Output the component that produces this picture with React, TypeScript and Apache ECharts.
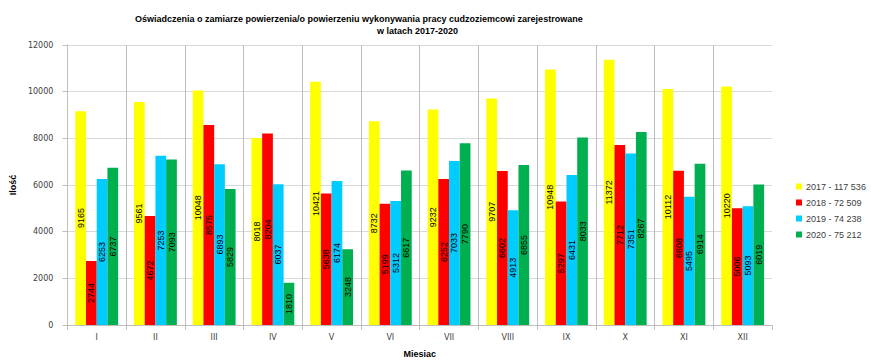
import React, { useEffect, useRef } from "react";
import * as echarts from "echarts";

const months = ["I", "II", "III", "IV", "V", "VI", "VII", "VIII", "IX", "X", "XI", "XII"];
const seriesNames = ["2017 - 117 536", "2018 - 72 509", "2019 - 74 238", "2020 - 75 212"];
const v2017 = [9165, 9561, 10048, 8018, 10421, 8732, 9232, 9707, 10948, 11372, 10112, 10220];
const v2018 = [2744, 4672, 8575, 8204, 5638, 5199, 6252, 6602, 5297, 7712, 6608, 5006];
const v2019 = [6253, 7253, 6893, 6037, 6174, 5312, 7033, 4913, 6431, 7351, 5495, 5093];
const v2020 = [6737, 7093, 5829, 1810, 3248, 6617, 7790, 6855, 8033, 8267, 6914, 6019];
const colors = ["#FFFF00", "#FF0000", "#00CCFF", "#00B050"];

export default function App() {
  const ref = useRef<HTMLDivElement>(null);
  useEffect(() => {
    document.body.style.margin = "0";
    const chart = echarts.init(ref.current!, null, { renderer: "svg" });
    const data = [v2017, v2018, v2019, v2020];
    chart.setOption({
      animation: false,
      backgroundColor: "#ffffff",
      title: [
        {
          text: "Oświadczenia o zamiarze powierzenia/o powierzeniu wykonywania pracy cudzoziemcowi zarejestrowane",
          left: 130,
          top: 9,
          textStyle: { fontFamily: "Liberation Sans", fontWeight: "bold", fontSize: 9, color: "#000" },
        },
        {
          text: "w latach 2017-2020",
          left: 372,
          top: 21,
          textStyle: { fontFamily: "Liberation Sans", fontWeight: "bold", fontSize: 9, color: "#000" },
        },
      ],
      legend: {
        orient: "vertical",
        left: 791,
        top: 177,
        itemWidth: 6,
        itemHeight: 6,
        itemGap: 7,
        icon: "rect",
        textStyle: { fontFamily: "Liberation Sans", fontSize: 9, color: "#404040", padding: [0, 0, 0, -1] },
        data: seriesNames,
      },
      grid: { left: 64, right: 99, top: 45, bottom: 28 },
      xAxis: {
        type: "category",
        data: months,
        name: "Miesiac",
        nameLocation: "middle",
        nameGap: 24,
        nameTextStyle: { fontFamily: "Liberation Sans", fontWeight: "bold", fontSize: 9, color: "#000" },
        axisLine: { lineStyle: { color: "#bfbfbf" } },
        axisTick: { show: true, length: 5, lineStyle: { color: "#bfbfbf" } },
        axisLabel: { fontFamily: "DejaVu Sans", fontSize: 8, color: "#404040", margin: 8 },
        splitLine: { show: true, showMinLine: false, showMaxLine: false, lineStyle: { color: "#bdbdbd" } },
      },
      yAxis: {
        type: "value",
        min: 0,
        max: 12000,
        interval: 2000,
        name: "Ilość",
        nameLocation: "middle",
        nameGap: 46,
        nameTextStyle: { fontFamily: "Liberation Sans", fontWeight: "bold", fontSize: 9, color: "#000" },
        axisLine: { show: true, lineStyle: { color: "#bfbfbf" } },
        axisTick: { show: true, length: 5, lineStyle: { color: "#bfbfbf" } },
        axisLabel: {
          fontFamily: "DejaVu Sans",
          fontSize: 8,
          color: "#404040",
          margin: 14,
          formatter: (v: number) => String(v),
        },
        splitLine: { show: true, lineStyle: { color: "#d9d9d9" } },
      },
      series: seriesNames.map((name, i) => ({
        name,
        type: "bar",
        data: data[i],
        barGap: "0%",
        barCategoryGap: "27%",
        itemStyle: { color: colors[i] },
        label: {
          show: true,
          position: "inside",
          rotate: 90,
          fontFamily: "Liberation Sans",
          fontSize: 9,
          color: "#000",
        },
      })),
    });
    return () => chart.dispose();
  }, []);
  return <div ref={ref} style={{ width: 871, height: 363 }} />;
}
